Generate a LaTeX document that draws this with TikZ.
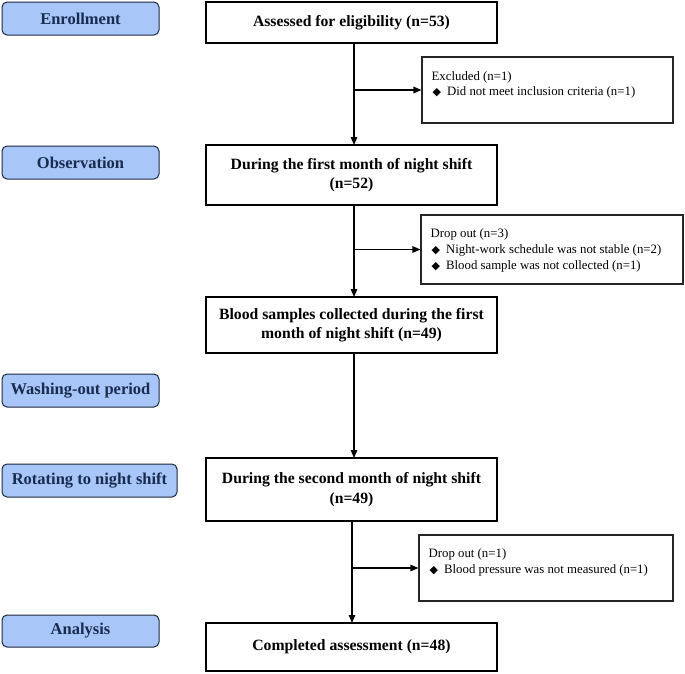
\documentclass[tikz,border=0pt]{standalone}
\usepackage{fontspec}
\setmainfont{Liberation Serif}
\newfontfamily\dejavu{DejaVu Sans}
\usetikzlibrary{arrows.meta}
\definecolor{phasefill}{RGB}{168,198,247}
\definecolor{phaseline}{RGB}{30,40,60}
\definecolor{phasetext}{RGB}{24,44,80}
\newcommand\mybul{\hspace*{1pt}{\dejavu\fontsize{11}{11}\selectfont ◆}\hspace{6pt}}
\begin{document}
\begin{tikzpicture}[x=1pt,y=-1pt,
  phase/.style={draw=phaseline, fill=phasefill, rounded corners=5pt, line width=1pt,
    text=phasetext, font=\fontsize{16.5}{19}\selectfont\bfseries, minimum height=33pt, inner sep=0pt},
  mainbox/.style={draw=black, line width=1.1pt, align=center,
    font=\fontsize{15.7}{19.5}\selectfont\bfseries, minimum width=291pt, inner sep=0pt},
  sidebox/.style={draw=black!85, line width=1.1pt, inner sep=0pt},
  sidetext/.style={align=left, font=\fontsize{12.8}{15.8}\selectfont, inner sep=0pt, anchor=north west},
  arr/.style={line width=1.3pt, -{Triangle[length=8pt,width=6.5pt]}}
]
\useasboundingbox (0,0) rectangle (685,673);

% phase labels
\node[phase, minimum width=157pt] (enr) at (80.5,18.5) {Enrollment};
\node[phase, minimum width=157pt] (obs) at (80.5,162.5) {Observation};
\node[phase, minimum width=157pt] (wash) at (80.5,390.5) {Washing-out period};
\node[phase, minimum width=175pt] (rot) at (89.5,480.5) {Rotating to night shift};
\node[phase, minimum width=157pt, minimum height=32pt] (ana) at (80.5,631) {Analysis};

% main flow
\node[mainbox, minimum height=41pt] (assess) at (351.5,22.5) {Assessed for eligibility (n=53)};
\node[mainbox, minimum height=60pt] (first) at (351.5,175) {During the first month of night shift\\(n=52)};
\node[mainbox, minimum height=56pt] (blood) at (351.5,325) {Blood samples collected during the first\\month of night shift (n=49)};
\node[mainbox, minimum height=63pt] (second) at (351.5,489.5) {During the second month of night shift\\(n=49)};
\node[mainbox, minimum height=48pt] (done) at (351.5,647) {Completed assessment (n=48)};

% side boxes
\node[sidebox, minimum width=251pt, minimum height=66pt] (excl) at (547.5,90) {};
\node[sidetext] (exclt) at ([shift={(10,14.5)}]excl.north west)
  {Excluded (n=1)\\\mybul Did not meet inclusion criteria (n=1)};
\node[sidebox, minimum width=262pt, minimum height=69pt] (drop1) at (552,249.5) {};
\node[sidetext] (drop1t) at ([shift={(10,14)}]drop1.north west)
  {Drop out (n=3)\\\mybul Night-work schedule was not stable (n=2)\\\mybul Blood sample was not collected (n=1)};
\node[sidebox, minimum width=254pt, minimum height=66pt] (drop2) at (546,568) {};
\node[sidetext] (drop2t) at ([shift={(10,14)}]drop2.north west)
  {Drop out (n=1)\\\mybul Blood pressure was not measured (n=1)};

% connectors
\coordinate (t1) at (354,43);
\coordinate (b1) at (354,145);
\coordinate (j1) at (354,90);
\draw[arr] (t1) -- (b1);
\draw[arr] (j1) -- (excl.west);

\coordinate (t2) at (354,205);
\coordinate (b2) at (354,297);
\coordinate (j2) at (354,249.5);
\draw[arr] (t2) -- (b2);
\draw[arr] (j2) -- (drop1.west);

\coordinate (t3) at (354,353);
\coordinate (b3) at (354,458);
\draw[arr] (t3) -- (b3);

\coordinate (t4) at (352,521);
\coordinate (b4) at (352,623);
\coordinate (j4) at (352,568);
\draw[arr] (t4) -- (b4);
\draw[arr] (j4) -- (drop2.west);
\end{tikzpicture}
\end{document}
